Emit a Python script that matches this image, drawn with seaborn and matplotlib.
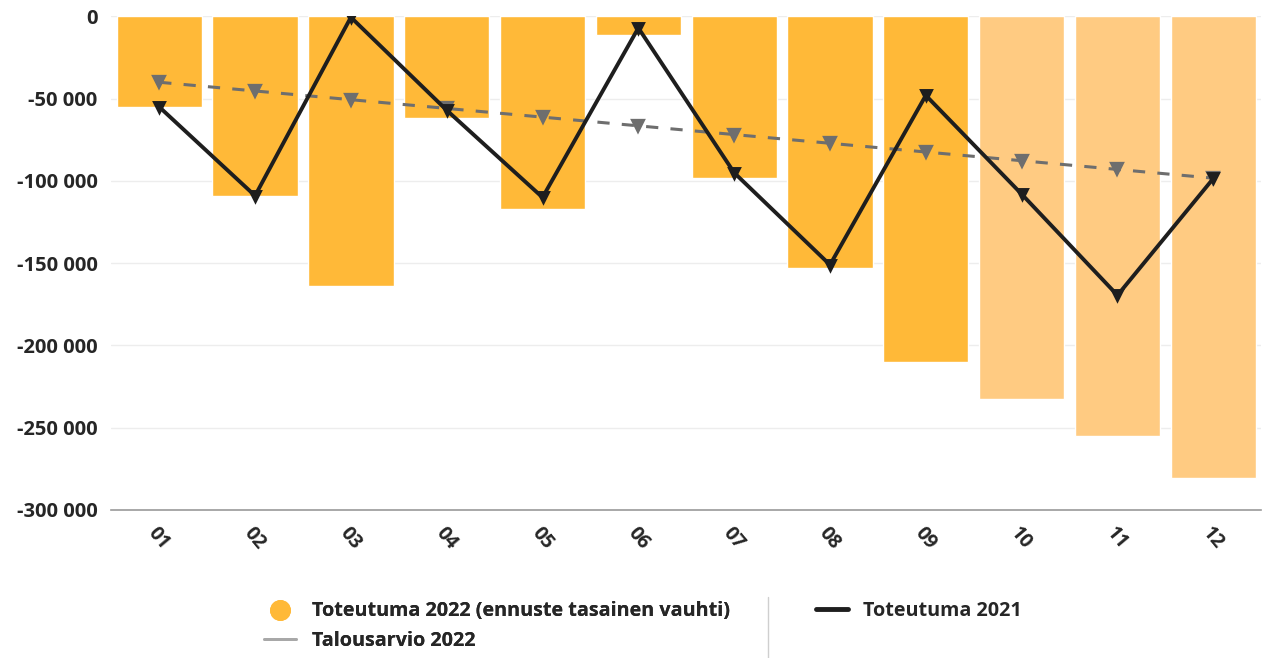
import pandas as pd
import matplotlib.pyplot as plt
import matplotlib.ticker as mticker
from matplotlib.lines import Line2D
import seaborn as sns

months = ['01', '02', '03', '04', '05', '06', '07', '08', '09', '10', '11', '12']
toteutuma_2022 = [-55000, -109000, -164000, -62000, -117000, -11500,
                  -98000, -153000, -210000, -232500, -255000, -280500]
forecast_flag = ['act', 'act', 'act', 'act', 'act', 'act',
                 'act', 'act', 'act', 'fc', 'fc', 'fc']
toteutuma_2021 = [-55000, -109000, -500, -57000, -110000, -7000,
                  -95000, -151000, -48000, -108000, -169500, -98500]
talousarvio_2022 = [-40000, -45300, -50600, -55900, -61200, -66500,
                    -71800, -77100, -82400, -87700, -93000, -98300]

df = pd.DataFrame({'month': months, 'value': toteutuma_2022, 'kind': forecast_flag})

sns.set_style('white')
plt.rcParams['font.family'] = ['Open Sans', 'DejaVu Sans']

fig, ax = plt.subplots(figsize=(12.65, 6.58), dpi=100)
fig.subplots_adjust(left=0.088, right=0.997, top=0.975, bottom=0.225)

clrs = {'act': '#FFB938', 'fc': '#FFCB82'}
sns.barplot(data=df, x='month', y='value', hue='kind', palette=clrs,
            width=0.89, dodge=False, legend=False, ax=ax, saturation=1)

sns.pointplot(x=months, y=talousarvio_2022, color='#6E6E6E', markers='v',
              linestyles=(0, (4, 4)), markersize=8, linewidth=2.2, ax=ax)
sns.pointplot(x=months, y=toteutuma_2021, color='#1E1E1E', markers='v',
              linestyles='-', markersize=7, linewidth=2.8, ax=ax)

ax.set_ylim(-300000, 0)
ax.set_xlim(-0.5, 11.5)
ax.yaxis.set_major_locator(mticker.MultipleLocator(50000))
ax.yaxis.set_major_formatter(mticker.FuncFormatter(lambda v, p: f'{int(v):,}'.replace(',', ' ')))
ax.grid(axis='y', color='#EDEDED', linewidth=1)
ax.set_axisbelow(True)

for s in ['top', 'left', 'right']:
    ax.spines[s].set_visible(False)
ax.spines['bottom'].set_color('#9A9A9A')
ax.spines['bottom'].set_linewidth(1.2)

ax.set_xticks([i + 0.5 for i in range(-1, 12)], minor=True)
ax.tick_params(axis='x', which='minor', length=6, color='#9A9A9A', width=1.2)
ax.tick_params(axis='x', which='major', length=0, pad=10)
ax.tick_params(axis='y', length=0, pad=10)
plt.setp(ax.get_xticklabels(), rotation=-50, ha='left', rotation_mode='anchor',
         fontsize=14, fontweight='bold')
plt.setp(ax.get_yticklabels(), fontsize=14.5, fontweight='bold')
ax.set_xlabel('')
ax.set_ylabel('')

h_2022 = Line2D([], [], marker='o', linestyle='', color='#FFB938', markersize=14)
h_budget = Line2D([], [], color='#A8A8A8', linewidth=2)
h_2021 = Line2D([], [], color='#1E1E1E', linewidth=3.5)
leg1 = fig.legend(handles=[h_2022, h_budget],
                  labels=['Toteutuma 2022 (ennuste tasainen vauhti)', 'Talousarvio 2022'],
                  loc='center left', bbox_to_anchor=(0.195, 0.048), frameon=False,
                  handlelength=1.6, handletextpad=0.8, labelspacing=0.5,
                  prop={'size': 14.2, 'weight': 'bold'})
fig.legend(handles=[h_2021], labels=['Toteutuma 2021'],
           loc='center left', bbox_to_anchor=(0.631, 0.071), frameon=False,
           handlelength=1.6, handletextpad=0.8,
           prop={'size': 14.2, 'weight': 'bold'})
fig.add_artist(leg1)
fig.add_artist(Line2D([0.607, 0.607], [0.0, 0.092], color='#CFCFCF', linewidth=1))

fig.savefig('out.png', dpi=100)
